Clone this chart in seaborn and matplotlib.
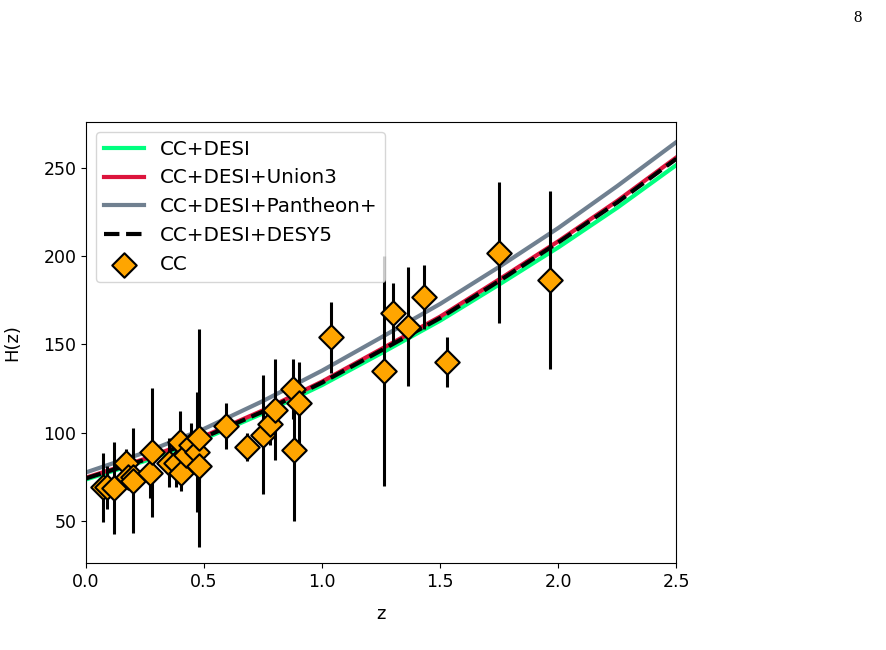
import numpy as np
import matplotlib
matplotlib.use('Agg')
import matplotlib.pyplot as plt
import seaborn as sns

# model curves
z_grid = [0.0, 0.25, 0.5, 0.75, 1.0, 1.25, 1.5, 1.75, 2.0, 2.25, 2.5]
H_desi = [73.5, 84.0, 96.5, 111.0, 127.0, 145.0, 163.5, 184.0, 205.0, 227.5, 251.7]
H_union3 = [74.5, 85.2, 98.0, 112.7, 129.0, 147.4, 165.8, 186.9, 208.5, 231.4, 256.0]
H_pantheon = [77.5, 88.8, 102.2, 118.0, 135.2, 154.0, 173.0, 194.0, 216.0, 239.8, 264.7]
H_desy5 = [74.1, 84.7, 97.4, 112.0, 128.4, 146.6, 165.0, 186.0, 207.8, 230.5, 255.2]

# cosmic chronometer data
z_cc = [0.07, 0.09, 0.12, 0.17, 0.179, 0.199, 0.2, 0.27, 0.28, 0.352, 0.38, 0.4,
        0.4004, 0.425, 0.445, 0.47, 0.4783, 0.48, 0.593, 0.68, 0.75, 0.781, 0.8,
        0.875, 0.88, 0.9, 1.037, 1.26, 1.3, 1.363, 1.43, 1.53, 1.75, 1.965]
H_cc = [69.0, 69.0, 68.6, 83.0, 75.0, 75.0, 72.9, 77.0, 88.8, 83.0, 83.0, 95.0,
        77.0, 87.1, 92.8, 89.0, 80.9, 97.0, 104.0, 92.0, 98.8, 105.0, 113.1,
        125.0, 90.0, 117.0, 154.0, 135.0, 168.0, 160.0, 177.0, 140.0, 202.0, 186.5]
sig_cc = [19.6, 12.0, 26.2, 8.0, 4.0, 5.0, 29.6, 14.0, 36.6, 14.0, 13.5, 17.0,
          10.2, 11.2, 12.9, 34.0, 9.0, 62.0, 13.0, 8.0, 33.6, 12.0, 28.5,
          17.0, 40.0, 23.0, 20.0, 65.0, 17.0, 33.6, 18.0, 14.0, 40.0, 50.4]

fig = plt.figure(figsize=(8.86, 6.5), dpi=100)
ax = fig.add_axes([0.0971, 0.1334, 0.6664, 0.6794])

sns.lineplot(x=z_grid, y=H_desi, color='springgreen', lw=3, label='CC+DESI', ax=ax)
sns.lineplot(x=z_grid, y=H_union3, color='crimson', lw=3, label='CC+DESI+Union3', ax=ax)
sns.lineplot(x=z_grid, y=H_pantheon, color='slategray', lw=3, label='CC+DESI+Pantheon+', ax=ax)
sns.lineplot(x=z_grid, y=H_desy5, color='black', lw=3, ls='--', label='CC+DESI+DESY5', ax=ax)

ax.errorbar(z_cc, H_cc, yerr=sig_cc, fmt='none', ecolor='black', elinewidth=2.2, zorder=3)
sns.scatterplot(x=z_cc, y=H_cc, marker='D', s=155, color='orange', edgecolor='black',
                linewidth=1.5, label='CC', zorder=4, ax=ax)

ax.set_xlim(0, 2.5)
ax.set_ylim(26.0, 276.2)
ax.set_xticks([0.0, 0.5, 1.0, 1.5, 2.0, 2.5])
ax.set_yticks([50, 100, 150, 200, 250])
ax.tick_params(labelsize=12.5)
ax.set_xlabel('z', fontsize=13, labelpad=10)
ax.set_ylabel('H(z)', fontsize=13, labelpad=16)
ax.legend(loc='upper left', fontsize=14.3)

fig.text(0.968, 0.972, '8', fontsize=12, family='Liberation Serif', ha='center', va='center')

fig.savefig('out.png', dpi=100)
